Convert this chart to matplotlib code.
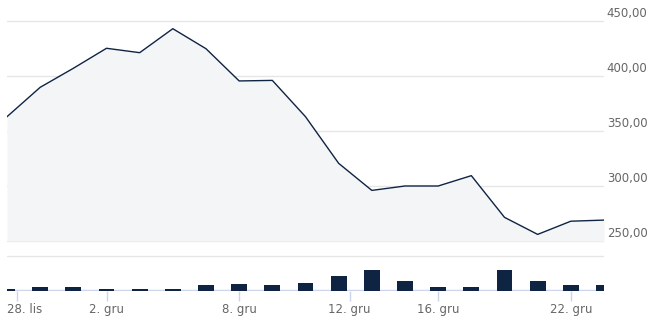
import numpy as np
import matplotlib
matplotlib.use("Agg")
import matplotlib.pyplot as plt

# ---------------- DATA ----------------
prices = [363, 389.7, 407, 425.2, 421.2, 443, 424.8, 395.5, 396, 363,
          320.6, 296, 300, 300, 309.4, 271.5, 256, 268, 269]
volumes = [2, 3.5, 3.5, 2, 2, 2, 5.5, 7, 5.5, 8,
           15, 21, 10, 3.5, 3.5, 21, 10, 5.5, 5.5]
tick_pos = [0.3, 3, 7, 10.33, 13, 17]
tick_labels = ["28. lis", "2. gru", "8. gru", "12. gru", "16. gru", "22. gru"]
y_ticks = [250, 300, 350, 400, 450]
y_labels = ["250,00", "300,00", "350,00", "400,00", "450,00"]
# --------------------------------------

W, H = 654, 322
NAVY = "#0f2443"
GRID = "#e6e6e6"
AXIS = "#ccd6eb"
TXT = "#666666"


def px_axes(fig, x0, y0, x1, y1):
    # pixel box (top-left origin) -> figure axes
    return fig.add_axes([x0 / W, 1 - y1 / H, (x1 - x0) / W, (y1 - y0) / H])


fig = plt.figure(figsize=(W / 100, H / 100), dpi=100)
x = np.arange(len(prices))

# main price panel: 450 at y=21px, 250 at y=241px (1.1 px per unit)
ax = px_axes(fig, 7, 10, 604, 245)
ax.set_xlim(0, len(prices) - 1)
ax.set_ylim(250 - 4 / 1.1, 450 + 11 / 1.1)
for v in y_ticks:
    ax.axhline(v, color=GRID, lw=1, zorder=0)
ax.fill_between(x, prices, 250, color="#f4f5f7", lw=0, zorder=1)
ax.plot(x, prices, color=NAVY, lw=1, zorder=3)
ax.axis("off")
for v, lab in zip(y_ticks, y_labels):
    ax.annotate(lab, xy=(1, v), xycoords=("axes fraction", "data"),
                xytext=(2, 1), textcoords="offset points",
                ha="left", va="bottom", fontsize=8.5, color=TXT)

# volume panel: top grid at 256px, baseline at 290px (1 unit = 1px)
vax = px_axes(fig, 7, 254, 604, 291)
vax.set_xlim(0, len(prices) - 1)
vax.set_ylim(-1, 36)
vax.axhline(34, color=GRID, lw=1, zorder=0)
vax.axhline(0, color=AXIS, lw=1, zorder=1)
vax.bar(x, volumes, width=0.48, bottom=-0.8, color=NAVY, zorder=3)
for s in vax.spines.values():
    s.set_visible(False)
vax.set_yticks([])
vax.set_xticks(tick_pos)
vax.set_xticklabels([""] + tick_labels[1:])
vax.tick_params(axis="x", length=7, width=1, color=AXIS, labelcolor=TXT,
                labelsize=8.5, pad=1.5)
vax.annotate(tick_labels[0], xy=(0, 0), xycoords="axes fraction",
             xytext=(0, -8.5), textcoords="offset points",
             ha="left", va="top", fontsize=8.5, color=TXT)

fig.savefig("out.png", dpi=100)
